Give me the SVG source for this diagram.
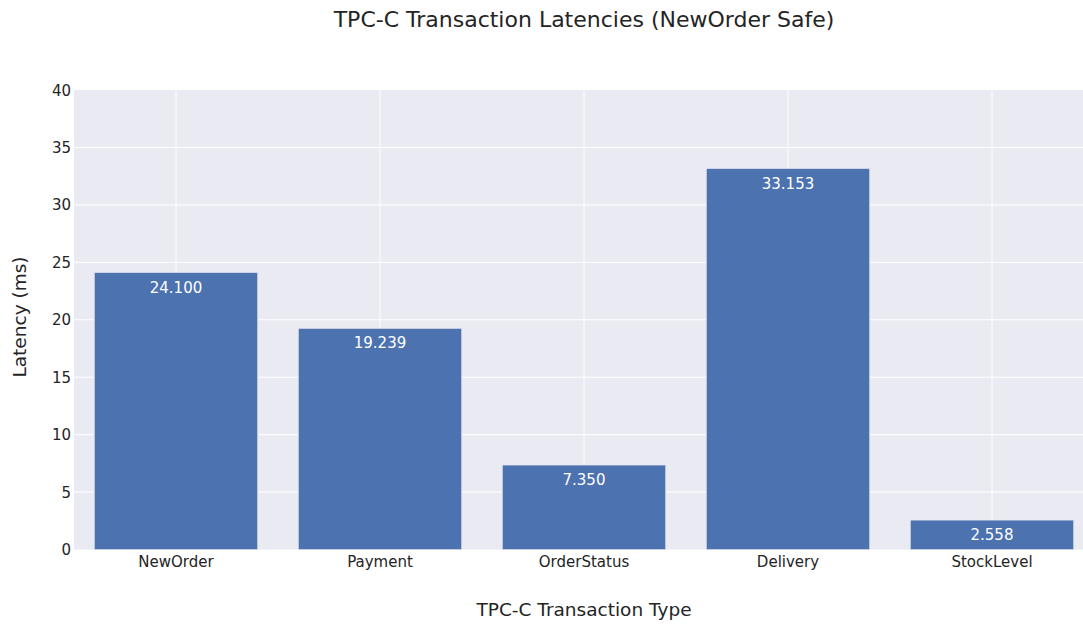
<svg xmlns="http://www.w3.org/2000/svg" width="1083" height="624" viewBox="0 0 1083 624">
  <style>
    text { font-family: "DejaVu Sans", Verdana, sans-serif; fill: #242424; }
    .tick { font-size: 15px; }
    .ytick { text-anchor: end; }
    .xtick { text-anchor: middle; }
    .grid { stroke: #ffffff; stroke-width: 1; }
    .bar rect { fill: #4C72B0; stroke: #EAEAF2; stroke-width: 0.5; }
    .bar text { fill: #ffffff; font-size: 15px; text-anchor: middle; }
    .axis-title { font-size: 18.5px; text-anchor: middle; }
  </style>
  <rect width="1083" height="624" fill="#ffffff"/>
  <!-- plotting area -->
  <rect x="74" y="90" width="1020" height="459.5" fill="#EAEAF2"/>
  <g id="grid">
    <line class="grid" x1="74" x2="1094" y1="492.06" y2="492.06"/>
    <line class="grid" x1="74" x2="1094" y1="434.63" y2="434.63"/>
    <line class="grid" x1="74" x2="1094" y1="377.19" y2="377.19"/>
    <line class="grid" x1="74" x2="1094" y1="319.75" y2="319.75"/>
    <line class="grid" x1="74" x2="1094" y1="262.31" y2="262.31"/>
    <line class="grid" x1="74" x2="1094" y1="204.88" y2="204.88"/>
    <line class="grid" x1="74" x2="1094" y1="147.44" y2="147.44"/>
    <line class="grid" x1="176" x2="176" y1="90" y2="549.5"/>
    <line class="grid" x1="380" x2="380" y1="90" y2="549.5"/>
    <line class="grid" x1="584" x2="584" y1="90" y2="549.5"/>
    <line class="grid" x1="788" x2="788" y1="90" y2="549.5"/>
    <line class="grid" x1="992" x2="992" y1="90" y2="549.5"/>
  </g>
  <!-- bars -->
  <g id="bar-neworder" class="bar">
    <rect x="94.4" y="272.65" width="163.2" height="276.85"/>
    <text x="176" y="292.5">24.100</text>
  </g>
  <g id="bar-payment" class="bar">
    <rect x="298.4" y="328.49" width="163.2" height="221.01"/>
    <text x="380" y="348.3">19.239</text>
  </g>
  <g id="bar-orderstatus" class="bar">
    <rect x="502.4" y="465.07" width="163.2" height="84.43"/>
    <text x="584" y="484.9">7.350</text>
  </g>
  <g id="bar-delivery" class="bar">
    <rect x="706.4" y="168.65" width="163.2" height="380.85"/>
    <text x="788" y="188.5">33.153</text>
  </g>
  <g id="bar-stocklevel" class="bar">
    <rect x="910.4" y="520.12" width="163.2" height="29.38"/>
    <text x="992" y="539.9">2.558</text>
  </g>
  <!-- y axis ticks -->
  <g id="y-axis">
    <text class="tick ytick" x="71" y="555">0</text>
    <text class="tick ytick" x="71" y="497.5">5</text>
    <text class="tick ytick" x="71" y="440.1">10</text>
    <text class="tick ytick" x="71" y="382.7">15</text>
    <text class="tick ytick" x="71" y="325.2">20</text>
    <text class="tick ytick" x="71" y="267.8">25</text>
    <text class="tick ytick" x="71" y="210.4">30</text>
    <text class="tick ytick" x="71" y="152.9">35</text>
    <text class="tick ytick" x="71" y="95.5">40</text>
  </g>
  <!-- x axis ticks -->
  <g id="x-axis">
    <text class="tick xtick" x="176" y="566.5">NewOrder</text>
    <text class="tick xtick" x="380" y="566.5">Payment</text>
    <text class="tick xtick" x="584" y="566.5">OrderStatus</text>
    <text class="tick xtick" x="788" y="566.5">Delivery</text>
    <text class="tick xtick" x="992" y="566.5">StockLevel</text>
  </g>
  <!-- titles -->
  <text x="584" y="616" class="axis-title">TPC-C Transaction Type</text>
  <text class="axis-title" transform="translate(26 317) rotate(-90)">Latency (ms)</text>
  <text x="584" y="26.5" style="font-size: 22px; text-anchor: middle;">TPC-C Transaction Latencies (NewOrder Safe)</text>
</svg>
